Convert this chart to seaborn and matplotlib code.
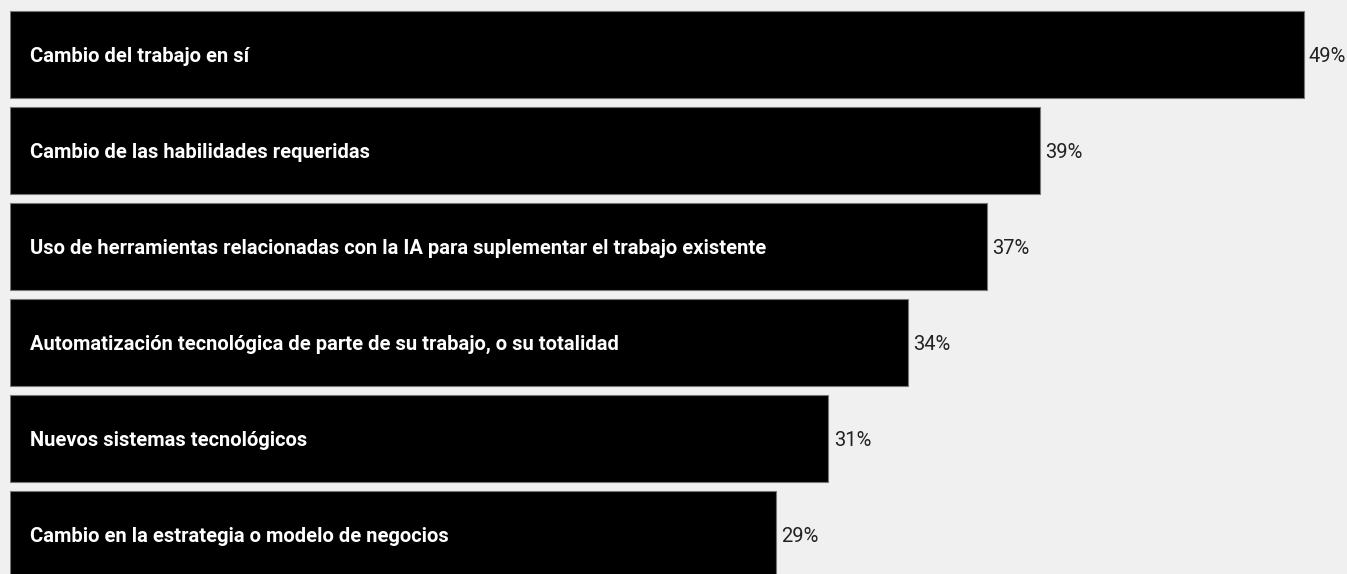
import pandas as pd
import seaborn as sns
import matplotlib.pyplot as plt

# datos del gráfico
labels = [
    'Cambio del trabajo en sí',
    'Cambio de las habilidades requeridas',
    'Uso de herramientas relacionadas con la IA para suplementar el trabajo existente',
    'Automatización tecnológica de parte de su trabajo, o su totalidad',
    'Nuevos sistemas tecnológicos',
    'Cambio en la estrategia o modelo de negocios',
]
values = [49, 39, 37, 34, 31, 29]

df = pd.DataFrame({'label': labels, 'value': values})

sns.set_theme(style='white')
plt.rcParams['font.family'] = ['Roboto', 'DejaVu Sans']

bg = '#f0f0f0'
fig = plt.figure(figsize=(13.47, 5.74), dpi=100, facecolor=bg)
ax = fig.add_axes([10 / 1347, 0, 1337 / 1347, 1])
ax.set_facecolor(bg)

sns.barplot(data=df, x='value', y='label', orient='h', color='black',
            width=87 / 96, edgecolor='#777777', linewidth=0.8, saturation=1, ax=ax)

ax.set_xlim(0, 1337 / 26.4)
ax.set_ylim(5 + (574 - 534.5) / 96, -54.5 / 96)

for i, (lab, v) in enumerate(zip(labels, values)):
    ax.text(0.75, i + 0.025, lab, color='white', fontsize=14.5, fontweight='bold',
            va='center', ha='left')
    ax.text(v + 0.2, i + 0.025, f'{v}%', color='#222222', fontsize=14.5,
            va='center', ha='left')

ax.set_xlabel('')
ax.set_ylabel('')
ax.set_xticks([])
ax.set_yticks([])
for s in ax.spines.values():
    s.set_visible(False)

fig.savefig('out.png', dpi=100, facecolor=bg)
